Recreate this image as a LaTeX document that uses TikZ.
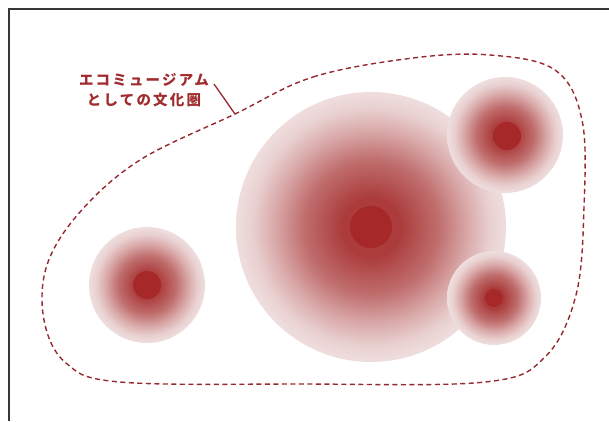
\documentclass[tikz,border=0pt]{standalone}
\usepackage{fontspec}
\usepackage{tikz}
\usetikzlibrary{positioning, calc}

\newfontfamily\cjk[LetterSpace=15]{Noto Sans CJK JP}

\definecolor{frameGray}{RGB}{55,55,55}
\definecolor{areaRed}{RGB}{150,40,48}
\definecolor{labelRed}{RGB}{160,44,46}
\definecolor{coreRed}{RGB}{166,40,40}
\definecolor{haloDark}{RGB}{172,60,60}
\definecolor{haloMid}{RGB}{192,110,110}
\definecolor{haloLight}{RGB}{218,170,170}
\definecolor{haloPale}{RGB}{233,208,208}
\definecolor{haloEdge}{RGB}{239,222,222}

\pgfdeclareradialshading{halo}{\pgfpoint{0bp}{0bp}}{color(0bp)=(haloDark); color(5.5bp)=(haloDark); color(12.5bp)=(haloMid); color(18bp)=(haloLight); color(22bp)=(haloPale); color(25bp)=(haloEdge); color(50bp)=(haloEdge)}

\begin{document}
\begin{tikzpicture}[x=1pt, y=-1pt]
    % Define styles
    \tikzstyle{frame} = [draw=frameGray, line width=1.5pt]
    \tikzstyle{glow} = [circle, inner sep=0pt, shading=halo]
    \tikzstyle{core} = [circle, inner sep=0pt, fill=coreRed]
    \tikzstyle{area} = [draw=areaRed, line width=1.4pt, dash pattern=on 5pt off 3.5pt]
    \tikzstyle{leader} = [draw=areaRed, line width=1.3pt]
    \tikzstyle{label} = [text=labelRed, align=center, font=\cjk\bfseries\fontsize{14.5pt}{19.5pt}\selectfont]

    \useasboundingbox (0,0) rectangle (609,421);
    \draw [frame] (9,421) -- (9,9) -- (609,9);

    % Place circles
    \node [glow, minimum size=116pt] (west) at (147,285) {};
    \node [glow, minimum size=270pt] (main) at (371,227) {};
    \node [glow, minimum size=116pt] (north) at (505,135) {};
    \node [glow, minimum size=94pt] (south) at (494,298) {};

    \node [core, minimum size=28pt] (west_core) at (west) {};
    \node [core, minimum size=42pt] (main_core) at (main) {};
    \node [core, minimum size=28pt] (north_core) at (507,136) {};
    \node [core, minimum size=18pt] (south_core) at (south) {};

    % Cultural area
    \coordinate (bend) at (235,114);
    \coordinate (tail) at (214,84);
    \draw [area] plot [smooth cycle, tension=0.6] coordinates {(bend) (313,77) (413,58) (490,55) (555,70) (582,120) (584,207) (576,295) (545,357) (485,382) (300,384) (120,382) (66,363) (44,320) (47,265) (80,212) (140,160)};

    % Add text
    \node [label] (name) at (144,90) {エコミュージアム\\としての文化圏};
    \draw [leader] (tail) -- (bend);

\end{tikzpicture}
\end{document}
